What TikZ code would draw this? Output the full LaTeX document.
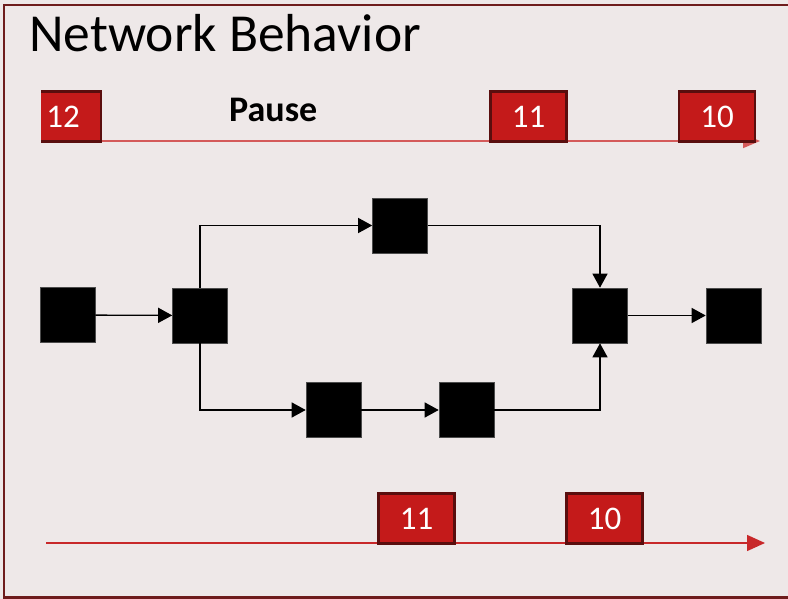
\documentclass[tikz,border=0pt]{standalone}
\usepackage{fontspec}
\setmainfont{Carlito}
\usetikzlibrary{arrows.meta}
\definecolor{bg}{HTML}{EEE8E8}
\definecolor{framec}{HTML}{6E1C1C}
\definecolor{pktfill}{HTML}{C41A1A}
\definecolor{pktdraw}{HTML}{5A0E0E}
\definecolor{tlinetop}{HTML}{D45A5A}
\definecolor{tlinebot}{HTML}{C8282A}
\tikzset{
  blk/.style={draw=black!70, fill=black, minimum size=55pt, inner sep=0pt, line width=0.6pt},
  edge/.style={draw=black, line width=1.3pt, -{Triangle[length=14pt,width=15pt]}},
  pkt/.style={draw=pktdraw, fill=pktfill, line width=2.2pt, minimum width=76pt, minimum height=50pt, inner sep=0pt, text=white, font=\fontsize{33}{33}\selectfont},
  tline/.style={line width=1.8pt},
}
\begin{document}
\begin{tikzpicture}[x=1pt,y=-1pt]
\useasboundingbox (0,0) rectangle (788,599);
\fill[bg] (0,0) rectangle (788,599);
\draw[framec, line width=2.5pt] (792,5) -- (4,5) -- (4,597.5) -- (792,597.5);

\node[anchor=base west, inner sep=0pt, font=\fontsize{53.5}{53.5}\selectfont] (title) at (29,52) {Network Behavior};

% top timeline
\coordinate (t1s) at (41,141);
\coordinate (t1e) at (760,141);
\draw[tline, tlinetop, -{Triangle[length=17pt,width=14pt]}] (t1s) -- (t1e);
\begin{scope}
  \clip (41,0) rectangle (788,599);
  \node[pkt] (p12) at (63,116.5) {12};
\end{scope}
\node[pkt] (p11) at (528.5,116.5) {11};
\node[pkt] (p10) at (717,116.5) {10};
\node[anchor=base west, inner sep=0pt, font=\bfseries\fontsize{36}{36}\selectfont] (pause) at (229,122) {Pause};

% network
\node[blk] (a) at (67.5,315) {};
\node[blk] (b) at (200,315.5) {};
\node[blk] (c) at (400,225.5) {};
\node[blk] (d) at (333.5,410) {};
\node[blk] (e) at (466.5,410) {};
\node[blk] (f) at (600,315.5) {};
\node[blk] (g) at (733.5,315.5) {};
\draw[edge] (a) -- (b);
\draw[edge] (b.north) |- (c.west);
\draw[edge] (b.south) |- (d.west);
\draw[edge] (d) -- (e);
\draw[edge] (c.east) -| (f.north);
\draw[edge] (e.east) -| (f.south);
\draw[edge] (f) -- (g);

% bottom timeline
\coordinate (t2s) at (46,543);
\coordinate (t2e) at (765,543);
\draw[tline, tlinebot, line width=1.5pt, -{Triangle[length=18pt,width=16pt]}] (t2s) -- (t2e);
\node[pkt] (q11) at (416.5,518.5) {11};
\node[pkt] (q10) at (604.5,518.5) {10};
\end{tikzpicture}
\end{document}
